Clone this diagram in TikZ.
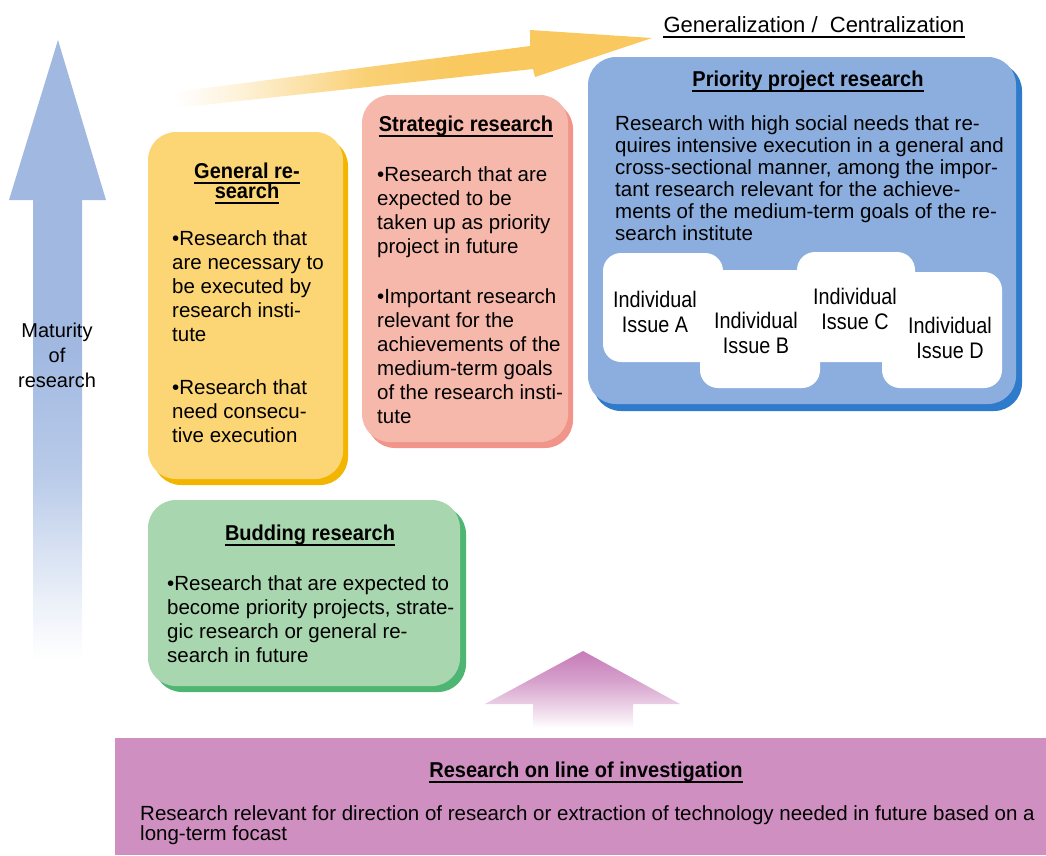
\documentclass[tikz,border=0pt]{standalone}
\usepackage{fontspec}
\setmainfont{Liberation Sans}
\newfontfamily\narrowfont{Liberation Sans}[FakeStretch=0.88]
\newfontfamily\headfont{Liberation Sans}[FakeStretch=0.93]
\usetikzlibrary{positioning}

\definecolor{matblue}{HTML}{A1B9E1}
\definecolor{genyellow}{HTML}{F9C85E}
\definecolor{genfill}{HTML}{FCD574}
\definecolor{genshadow}{HTML}{F2B600}
\definecolor{stratfill}{HTML}{F6B8AB}
\definecolor{stratshadow}{HTML}{F1958A}
\definecolor{priofill}{HTML}{8BAEDF}
\definecolor{prioshadow}{HTML}{2F7BCB}
\definecolor{budfill}{HTML}{A8D6AF}
\definecolor{budshadow}{HTML}{4FB573}
\definecolor{invfill}{HTML}{CF90C1}
\definecolor{invarrow}{HTML}{C67BB8}

\pgfdeclareverticalshading{maturityfade}{100bp}{color(0bp)=(white); color(25bp)=(white); color(30bp)=(matblue!22); color(40bp)=(matblue!75); color(50bp)=(matblue); color(100bp)=(matblue)}
\pgfdeclarehorizontalshading{generalfade}{100bp}{color(0bp)=(white); color(25bp)=(white); color(32bp)=(genyellow!25); color(45bp)=(genyellow!85); color(55bp)=(genyellow); color(100bp)=(genyellow)}
\pgfdeclareverticalshading{investfade}{100bp}{color(0bp)=(white); color(25bp)=(white); color(35bp)=(invarrow!25); color(55bp)=(invarrow!70); color(75bp)=(invarrow); color(100bp)=(invarrow)}

\begin{document}
\begin{tikzpicture}[x=1pt, y=-1pt,
    box/.style={rounded corners=28pt},
    issue/.style={fill=white, rounded corners=18pt},
    heading/.style={font=\headfont\bfseries\fontsize{21.5}{20}\selectfont, inner sep=0pt, anchor=base},
    bodytext/.style={font=\fontsize{20.5}{24}\selectfont, inner sep=0pt, anchor=north west, align=left},
    issuetext/.style={font=\narrowfont\fontsize{22.5}{25}\selectfont, inner sep=0pt, anchor=north, align=center}]

  \useasboundingbox (0,0) rectangle (1046,855);

  % maturity arrow
  \shade[shading=maturityfade] (33,660) -- (33,200) -- (9,200) -- (58,40) -- (106,200) -- (82,200) -- (82,660) -- cycle;
  \node[font=\fontsize{20}{25}\selectfont, align=center, inner sep=0pt, anchor=north] (maturity) at (57,320) {\strut Maturity\\of\\research};

  % generalization arrow
  \shade[shading=generalfade] (175,92) -- (530,46) -- (530,30) -- (652,38) -- (535,77) -- (533,69) -- (175,108) -- cycle;
  \node[font=\fontsize{22}{22}\selectfont, inner sep=0pt, anchor=base] (gentitle) at (814,32) {Generalization /\ \ Centralization};

  % general research
  \fill[genshadow, box] (153,138) rectangle (348,485);
  \fill[genfill, box] (148,132) rectangle (343,479);
  \node[heading] (genhead) at (247,178) {General re-};
  \node[heading] (genhead2) at (247,198) {search};
  \node[bodytext] (genbody) at (172,228) {\strut •Research that\\are necessary to\\be executed by\\research insti-\\tute\\[29pt]•Research that\\need consecu-\\tive execution};

  % strategic research
  \fill[stratshadow, box] (367,101) rectangle (573,448);
  \fill[stratfill, box] (362,95) rectangle (568,442);
  \node[heading] (strathead) at (466,131) {Strategic research};
  \node[bodytext] (stratbody) at (377,164) {\strut •Research that are\\expected to be\\taken up as priority\\project in future\\[26pt]•Important research\\relevant for the\\achievements of the\\medium-term goals\\of the research insti-\\tute};

  % priority project research
  \fill[prioshadow, box] (593,63) rectangle (1022,411);
  \fill[priofill, box] (588,57) rectangle (1016,404);
  \node[heading] (priohead) at (808,86) {Priority project research};
  \node[bodytext, font=\fontsize{20.5}{22}\selectfont] (priobody) at (615,114.6) {\strut Research with high social needs that re-\\quires intensive execution in a general and\\cross-sectional manner, among the impor-\\tant research relevant for the achieve-\\ments of the medium-term goals of the re-\\search institute};
  \fill[issue] (603,253) rectangle (723,362);
  \fill[issue] (700,270) rectangle (820,388);
  \fill[issue] (797,252) rectangle (915,362);
  \fill[issue] (882,272) rectangle (1002,388);
  \node[issuetext] (issuea) at (655,289.5) {\strut Individual\\Issue A};
  \node[issuetext] (issueb) at (756,310.5) {\strut Individual\\Issue B};
  \node[issuetext] (issuec) at (855,286.5) {\strut Individual\\Issue C};
  \node[issuetext] (issued) at (950,315.5) {\strut Individual\\Issue D};

  % budding research
  \fill[budshadow, box] (154,506) rectangle (466,692);
  \fill[budfill, box] (148,500) rectangle (460,686);
  \node[heading] (budhead) at (310,540) {Budding research};
  \node[bodytext] (budbody) at (167,573) {\strut •Research that are expected to\\become priority projects, strate-\\gic research or general re-\\search in future};

  % investigation arrow and bar
  \shade[shading=investfade] (533,728) -- (533,704) -- (485,704) -- (583,651) -- (680,704) -- (633,704) -- (633,728) -- cycle;
  \fill[invfill] (115,738) rectangle (1046,855);
  \node[heading] (linehead) at (586,777) {Research on line of investigation};
  \node[bodytext, font=\fontsize{20.5}{19}\selectfont] (linebody) at (140,805) {Research relevant for direction of research or extraction of technology needed in future based on a\\long-term focast};

  % underlines of the headings
  \foreach \h in {gentitle, genhead, genhead2, strathead, priohead, budhead, linehead}
    \draw[line width=1.5pt] ([yshift=-5pt]\h.base west) -- ([yshift=-5pt]\h.base east);
\end{tikzpicture}
\end{document}
